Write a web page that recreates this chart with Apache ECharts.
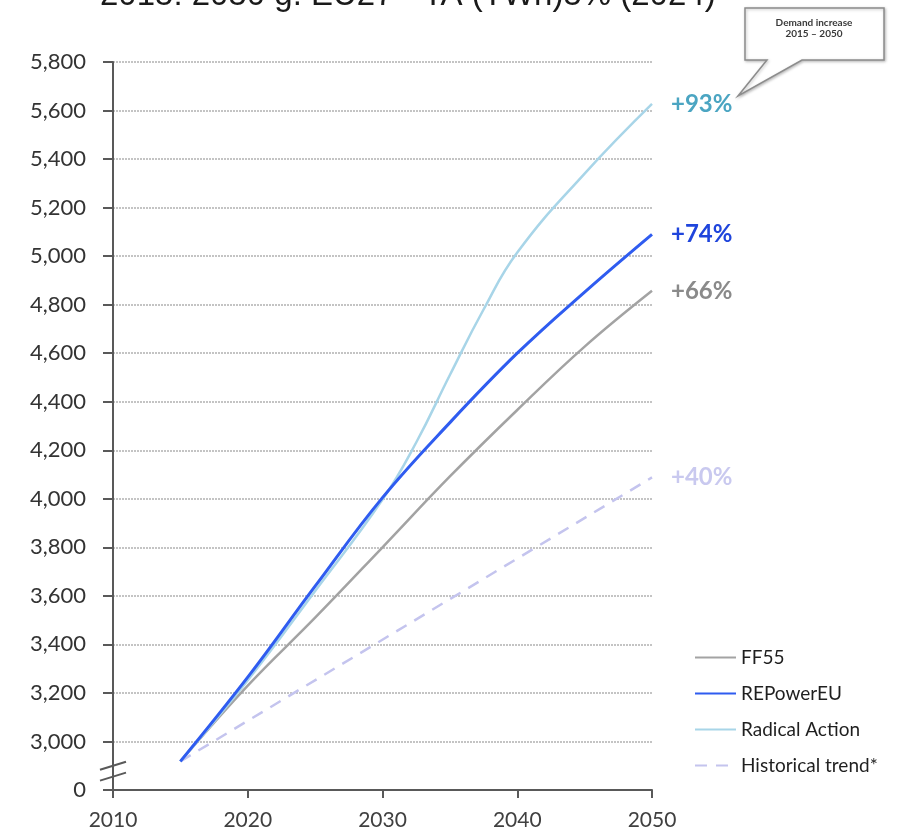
<!DOCTYPE html>
<html>
<head>
<meta charset="utf-8">
<script src="https://cdn.jsdelivr.net/npm/echarts@6/dist/echarts.min.js"></script>
<style>
  html, body { margin: 0; padding: 0; background: #fff; }
  #chart { width: 897px; height: 832px; }
</style>
</head>
<body>
<div id="chart"></div>
<script>
// EU27 electricity demand scenarios, TWh
const seriesNames = ['FF55', 'REPowerEU', 'Radical Action', 'Historical trend*'];

const ff55 = [[2015, 2918], [2020, 3230], [2025, 3510], [2030, 3800], [2035, 4092], [2040, 4366], [2045, 4627], [2050, 4857]];
const repowerEU = [[2015, 2918], [2020, 3265], [2025, 3640], [2030, 4005], [2035, 4314], [2040, 4600], [2045, 4852], [2050, 5090]];
const radicalAction = [[2015, 2918], [2020, 3252], [2025, 3620], [2030, 3997], [2032.5, 4232], [2035, 4510], [2037.5, 4780], [2040, 5015], [2045, 5340], [2050, 5627]];
const historicalTrend = [[2015, 2918], [2050, 4088]];

const xTicks = [2010, 2020, 2030, 2040, 2050];
const yBreakValue = 2800;      // bottom of the broken axis, labelled as 0

const colors = {
  ff55: '#a3a3a3',
  repower: '#2f5cf0',
  radical: '#a8d5e8',
  hist: '#c4c4ee'
};
const labelColors = {
  ff55: '#8a8a8a',
  repower: '#1f45dc',
  radical: '#4ba5c2',
  hist: '#c9c9ef'
};

const uiFont = 'Lato, "Open Sans", sans-serif';

function growthLabel(data) {
  const first = data[0][1];
  const last = data[data.length - 1][1];
  return '+' + Math.round((last / first - 1) * 100) + '%';
}

function makeSeries(name, data, color, labelColor, width, extra) {
  return Object.assign({
    name: name,
    type: 'line',
    data: data,
    symbol: 'none',
    showSymbol: false,
    smooth: 0.4,
    lineStyle: { color: color, width: width },
    itemStyle: { color: color },
    endLabel: {
      show: true,
      formatter: () => growthLabel(data),
      color: labelColor,
      fontFamily: uiFont,
      fontSize: 24,
      fontWeight: 'bold',
      distance: 19
    },
    emphasis: { disabled: true },
    z: 3
  }, extra || {});
}

const chart = echarts.init(document.getElementById('chart'), null, { renderer: 'canvas' });

const option = {
  animation: false,
  backgroundColor: '#ffffff',
  title: {
    text: '2015: 2050 g. EU27 · TA (TWh)5% (2024)',
    left: 95,
    top: -26,
    textStyle: {
      fontFamily: '"Liberation Sans", Arial, sans-serif',
      fontSize: 33,
      fontWeight: 'normal',
      color: '#1a1a1a'
    }
  },
  grid: { left: 113, right: 245, top: 62, bottom: 42, containLabel: false },
  legend: {
    orient: 'vertical',
    left: 689,
    top: 643,
    itemWidth: 41,
    itemHeight: 14,
    itemGap: 17,
    data: seriesNames,
    itemStyle: { opacity: 0, borderWidth: 0 },
    textStyle: { fontFamily: uiFont, fontSize: 19, color: '#1f1f1f' },
    selectedMode: false
  },
  xAxis: {
    type: 'value',
    min: xTicks[0],
    max: xTicks[xTicks.length - 1],
    interval: 10,
    axisLine: { show: true, lineStyle: { color: '#595959', width: 2 } },
    axisTick: { show: true, length: 8, lineStyle: { color: '#595959', width: 2 } },
    axisLabel: {
      formatter: v => String(v),
      fontFamily: uiFont,
      fontSize: 21,
      color: '#404040',
      margin: 20
    },
    splitLine: { show: false }
  },
  yAxis: {
    type: 'value',
    min: yBreakValue,
    max: 5800,
    interval: 200,
    axisLine: { show: true, lineStyle: { color: '#595959', width: 2 } },
    axisTick: { show: true, length: 10, lineStyle: { color: '#595959', width: 2 } },
    axisLabel: {
      formatter: v => v === yBreakValue ? '0' : v.toLocaleString('en-US'),
      fontFamily: uiFont,
      fontSize: 22,
      color: '#333',
      margin: 27
    },
    splitLine: {
      show: true,
      lineStyle: { color: '#c4c4c4', width: 2, type: [2, 1] }
    }
  },
  series: [
    makeSeries(seriesNames[0], ff55, colors.ff55, labelColors.ff55, 2.5),
    makeSeries(seriesNames[1], repowerEU, colors.repower, labelColors.repower, 3, { z: 5 }),
    makeSeries(seriesNames[2], radicalAction, colors.radical, labelColors.radical, 2.5, { z: 4, smooth: 0.45 }),
    makeSeries(seriesNames[3], historicalTrend, colors.hist, labelColors.hist, 2.5, {
      smooth: false,
      lineStyle: { color: colors.hist, width: 2.5, type: [12, 9] }
    })
  ]
};

chart.setOption(option);

// Axis break marks and the "Demand increase" callout
const axisX = chart.convertToPixel({ xAxisIndex: 0 }, xTicks[0]);
const breakY1 = chart.convertToPixel({ yAxisIndex: 0 }, 2900);
const breakY2 = chart.convertToPixel({ yAxisIndex: 0 }, 2855);

function breakMark(y) {
  return {
    type: 'line',
    shape: { x1: axisX - 13, y1: y + 4, x2: axisX + 13, y2: y - 4 },
    style: { stroke: '#595959', lineWidth: 2 },
    z: 10
  };
}

chart.setOption({
  graphic: [
    breakMark(breakY1),
    breakMark(breakY2),
    {
      type: 'polygon',
      shape: {
        points: [[745, 8], [884, 8], [884, 60], [802, 60], [738, 96], [767, 60], [745, 60]]
      },
      style: {
        fill: '#fff',
        stroke: '#8c8c8c',
        lineWidth: 1.5,
        shadowColor: 'rgba(0,0,0,0.25)',
        shadowBlur: 3,
        shadowOffsetX: 1,
        shadowOffsetY: 1
      },
      z: 20
    },
    {
      type: 'text',
      x: 814,
      y: 17,
      style: {
        text: 'Demand increase\n2015 – 2050',
        fill: '#3a3a3a',
        font: 'bold 10px ' + uiFont,
        textAlign: 'center',
        lineHeight: 11
      },
      z: 21
    }
  ]
});
</script>
</body>
</html>
